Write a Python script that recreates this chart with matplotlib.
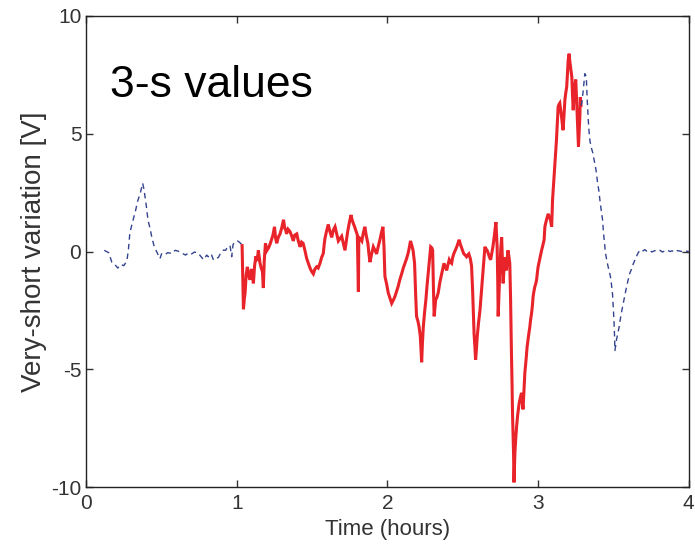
import matplotlib
matplotlib.use("Agg")
import matplotlib.pyplot as plt

plt.rcParams['font.family'] = ['Liberation Sans', 'DejaVu Sans']
plt.rcParams['axes.unicode_minus'] = False

# --- leading quiet period (dashed blue) ---
t_pre = [0.12, 0.15, 0.17, 0.19, 0.21, 0.23, 0.25, 0.27, 0.28, 0.29, 0.31, 0.33, 0.34, 0.36,
         0.375, 0.385, 0.39, 0.40, 0.41, 0.425, 0.436, 0.45, 0.46, 0.475, 0.49, 0.50, 0.52, 0.54,
         0.57, 0.59, 0.61, 0.63, 0.66, 0.68, 0.70, 0.72, 0.745, 0.76, 0.78, 0.80, 0.81, 0.83,
         0.845, 0.86, 0.878, 0.89, 0.91, 0.925, 0.94, 0.955, 0.966, 0.975, 0.99, 1.005, 1.02, 1.035]
v_pre = [0.05, -0.05, -0.45, -0.55, -0.70, -0.55, -0.60, -0.40, 0.05, 0.80, 1.30, 1.80, 2.10, 2.50,
         2.90, 2.60, 2.35, 1.90, 1.35, 0.95, 0.60, 0.25, 0.10, -0.10, -0.30, -0.10, -0.15, -0.05,
         -0.08, 0.05, 0.02, -0.05, -0.15, -0.05, -0.10, -0.02, -0.08, -0.20, -0.35, -0.15, -0.22, -0.10,
         -0.36, -0.30, -0.25, -0.10, 0.06, 0.05, 0.20, 0.25, -0.22, 0.30, 0.42, 0.45, 0.38, 0.28]

# --- event period (solid red) ---
t_evt = [1.035, 1.040, 1.044, 1.050, 1.055, 1.062, 1.070, 1.078, 1.088, 1.095, 1.100, 1.105, 1.110,
         1.118, 1.127, 1.135, 1.143, 1.150, 1.154, 1.162, 1.170, 1.176, 1.182, 1.190, 1.200, 1.210,
         1.220, 1.230, 1.240, 1.250, 1.258, 1.265, 1.275, 1.287, 1.298, 1.310, 1.318, 1.325, 1.330,
         1.340, 1.353, 1.365, 1.375, 1.385, 1.398, 1.408, 1.420, 1.430, 1.440, 1.452, 1.464, 1.475,
         1.486, 1.497, 1.508, 1.518, 1.530, 1.540, 1.552, 1.563, 1.574, 1.580, 1.585, 1.595, 1.607,
         1.618, 1.630, 1.640, 1.652, 1.663, 1.674, 1.685, 1.696, 1.707, 1.718, 1.727, 1.736, 1.746,
         1.758, 1.765, 1.773, 1.782, 1.790, 1.800, 1.807, 1.810, 1.820, 1.830, 1.840, 1.850, 1.860,
         1.870, 1.877, 1.884, 1.895, 1.906, 1.917, 1.928, 1.940, 1.950, 1.960, 1.970, 1.977, 1.983,
         1.995, 2.005, 2.015, 2.028, 2.040, 2.050, 2.060, 2.070, 2.082, 2.094, 2.105, 2.116, 2.127,
         2.138, 2.146, 2.153, 2.162, 2.170, 2.180, 2.187, 2.193, 2.202, 2.210, 2.218, 2.227, 2.232,
         2.238, 2.246, 2.255, 2.262, 2.270, 2.278, 2.287, 2.295, 2.300, 2.305, 2.310, 2.320, 2.328,
         2.337, 2.348, 2.360, 2.368, 2.375, 2.384, 2.393, 2.402, 2.410, 2.418, 2.426, 2.433, 2.440,
         2.450, 2.460, 2.468, 2.476, 2.484, 2.490, 2.498, 2.507, 2.516, 2.525, 2.533, 2.540, 2.550,
         2.558, 2.565, 2.570, 2.575, 2.580, 2.585, 2.590, 2.596, 2.605, 2.614, 2.622, 2.630, 2.638,
         2.647, 2.655, 2.662, 2.670, 2.678, 2.685, 2.693, 2.700, 2.710, 2.720, 2.725, 2.728, 2.732,
         2.735, 2.740, 2.746, 2.752, 2.758, 2.763, 2.768, 2.774, 2.780, 2.785, 2.790, 2.795, 2.800,
         2.806, 2.812, 2.817, 2.820, 2.823, 2.827, 2.830, 2.834, 2.837, 2.840, 2.843, 2.846, 2.851,
         2.857, 2.865, 2.874, 2.882, 2.890, 2.895, 2.900, 2.906, 2.912, 2.920, 2.927, 2.936, 2.945,
         2.950, 2.956, 2.962, 2.967, 2.972, 2.978, 2.985, 2.990, 2.995, 3.000, 3.005, 3.010, 3.016,
         3.023, 3.031, 3.040, 3.045, 3.050, 3.058, 3.067, 3.075, 3.082, 3.090, 3.096, 3.100, 3.105,
         3.110, 3.116, 3.122, 3.128, 3.133, 3.139, 3.144, 3.150, 3.156, 3.161, 3.166, 3.172, 3.178,
         3.184, 3.190, 3.195, 3.200, 3.206, 3.210, 3.215, 3.220, 3.224, 3.228, 3.233, 3.237, 3.240,
         3.245, 3.250, 3.255, 3.260, 3.264, 3.268, 3.272, 3.277, 3.280, 3.285]
v_evt = [0.25, -1.20, -2.45, -2.00, -1.75, -1.00, -0.65, -1.00, -1.20, -0.80, -0.75, -1.10, -1.35,
         -0.60, -0.20, -0.40, 0.05, -0.30, -0.50, -0.70, -0.85, -1.55, -0.40, 0.35, 0.05, 0.15,
         0.30, 0.50, 0.70, 1.05, 0.55, 0.35, 0.60, 0.75, 1.00, 1.35, 1.00, 0.90, 0.75,
         0.95, 0.85, 0.65, 0.45, 0.70, 0.75, 0.45, 0.20, 0.40, 0.35, 0.05, -0.30, -0.50,
         -0.70, -0.85, -0.95, -0.75, -0.65, -0.70, -0.50, -0.25, -0.08, 0.30, 0.55, 0.85, 1.15,
         0.85, 0.60, 0.90, 1.05, 0.75, 0.45, 0.55, 0.65, 0.35, 0.05, 0.45, 0.85, 1.20,
         1.55, 1.35, 1.20, 1.05, 0.90, 0.70, -1.70, 0.60, 0.55, 0.45, 0.80, 1.05, 0.65,
         0.35, -0.10, -0.45, -0.10, 0.20, 0.05, -0.10, 0.25, 0.50, 0.80, 1.05, 0.20, -1.05,
         -1.40, -1.75, -1.95, -2.20, -2.05, -1.90, -1.70, -1.50, -1.20, -0.95, -0.70, -0.50, -0.30,
         -0.05, 0.20, 0.45, 0.25, 0.05, -0.50, -1.80, -2.75, -2.95, -3.20, -3.60, -4.70, -3.90,
         -3.20, -2.60, -2.05, -1.50, -0.95, -0.40, 0.20, 0.15, 0.05, -1.50, -2.75, -2.05, -1.95,
         -1.75, -1.30, -0.95, -0.70, -0.50, -0.65, -0.80, -0.55, -0.35, -0.45, -0.50, -0.25, -0.10,
         0.05, 0.20, 0.35, 0.50, 0.30, 0.20, 0.05, -0.10, -0.15, -0.22, -0.15, -0.10, -0.30,
         -0.60, -1.60, -2.60, -3.50, -4.00, -4.60, -4.20, -3.60, -3.00, -2.50, -1.85, -1.20, -0.50,
         0.20, 0.10, 0.05, -0.10, -0.25, -0.35, -0.05, 0.20, 0.70, 1.25, 0.60, 0.20, -1.20,
         -2.75, -1.80, -0.80, 0.10, 0.60, -0.40, -1.35, -0.70, -0.25, -0.55, -0.80, -0.30, 0.05,
         -0.20, -0.50, -1.90, -3.10, -4.30, -5.60, -6.85, -7.80, -8.55, -9.80, -9.20, -8.55, -8.00,
         -7.45, -6.90, -6.45, -6.20, -6.00, -6.40, -6.70, -5.90, -5.15, -4.60, -4.05, -3.60, -3.20,
         -2.90, -2.65, -2.30, -1.90, -1.70, -1.50, -1.35, -1.20, -0.90, -0.65, -0.50, -0.35, -0.15,
         0.05, 0.25, 0.50, 1.05, 1.20, 1.40, 1.60, 1.45, 1.35, 1.05, 2.20, 2.60, 3.05,
         3.60, 4.20, 4.75, 5.50, 6.15, 6.25, 6.30, 6.00, 5.70, 5.40, 5.15, 5.80, 6.45,
         6.75, 7.00, 7.60, 8.15, 8.40, 8.10, 7.85, 7.60, 7.40, 6.70, 6.00, 6.50, 6.85,
         7.10, 7.30, 6.50, 5.70, 5.10, 4.45, 5.00, 5.70, 6.55, 6.20]

# --- recovery period (dashed blue) ---
t_post = [3.285, 3.290, 3.295, 3.300, 3.305, 3.310, 3.315, 3.320, 3.326, 3.333, 3.338, 3.343, 3.350,
          3.358, 3.365, 3.370, 3.376, 3.382, 3.388, 3.395, 3.403, 3.410, 3.416, 3.422, 3.428, 3.434,
          3.440, 3.447, 3.455, 3.465, 3.472, 3.480, 3.487, 3.494, 3.500, 3.504, 3.507, 3.510, 3.515,
          3.520, 3.530, 3.538, 3.545, 3.553, 3.562, 3.570, 3.578, 3.587, 3.598, 3.610, 3.620, 3.630,
          3.640, 3.653, 3.665, 3.675, 3.690, 3.708, 3.720, 3.740, 3.755, 3.775, 3.790, 3.810, 3.825,
          3.840, 3.860, 3.874, 3.890, 3.907, 3.925, 3.940, 3.960, 3.973, 3.990, 4.000]
v_post = [6.20, 6.30, 6.60, 6.85, 7.20, 7.55, 7.50, 7.40, 6.45, 5.60, 5.10, 4.75, 4.50,
          4.30, 4.15, 3.95, 3.75, 3.55, 3.30, 2.90, 2.60, 2.20, 1.90, 1.60, 1.35, 0.80,
          0.40, -0.05, -0.35, -0.65, -0.85, -1.05, -1.40, -1.80, -2.50, -3.00, -3.50, -4.20, -4.00,
          -3.75, -3.45, -3.20, -2.90, -2.60, -2.30, -2.05, -1.80, -1.50, -1.20, -0.90, -0.75, -0.55,
          -0.40, -0.20, -0.05, 0.05, 0.00, 0.08, 0.02, 0.06, -0.02, 0.04, 0.00, 0.05, -0.02,
          0.02, 0.06, 0.00, 0.03, -0.03, 0.04, 0.02, -0.01, 0.03, 0.01, 0.00]

x_ticks = [0, 1, 2, 3, 4]
y_ticks = [-10, -5, 0, 5, 10]

fig = plt.figure(figsize=(6.95, 5.51), dpi=100)
ax = fig.add_axes([0.124, 0.116, 0.867, 0.855])

blue = '#34438f'
red = '#e8232a'
ax.plot(t_pre, v_pre, color=blue, lw=1.0, dashes=(4, 3))
ax.plot(t_evt, v_evt, color=red, lw=2.2, solid_joinstyle='miter')
ax.plot(t_post, v_post, color=blue, lw=1.0, dashes=(4, 3))

ax.set_xlim(0, 4)
ax.set_ylim(-10, 10)
ax.set_xticks(x_ticks)
ax.set_yticks(y_ticks)
ax.tick_params(direction='in', length=5, width=1, top=True, right=True,
               labelsize=15, colors='#333333')
ax.tick_params(axis='x', pad=5)
for s in ax.spines.values():
    s.set_linewidth(1.0)
    s.set_color('#222222')

ax.set_xlabel('Time (hours)', fontsize=16, color='#333333', labelpad=4)
ax.set_ylabel('Very-short variation [V]', fontsize=20, color='#333333', labelpad=3)

ax.text(0.16, 6.56, '3-s values', fontsize=32, va='baseline', ha='left', color='black')

fig.savefig('out.png', dpi=100)
